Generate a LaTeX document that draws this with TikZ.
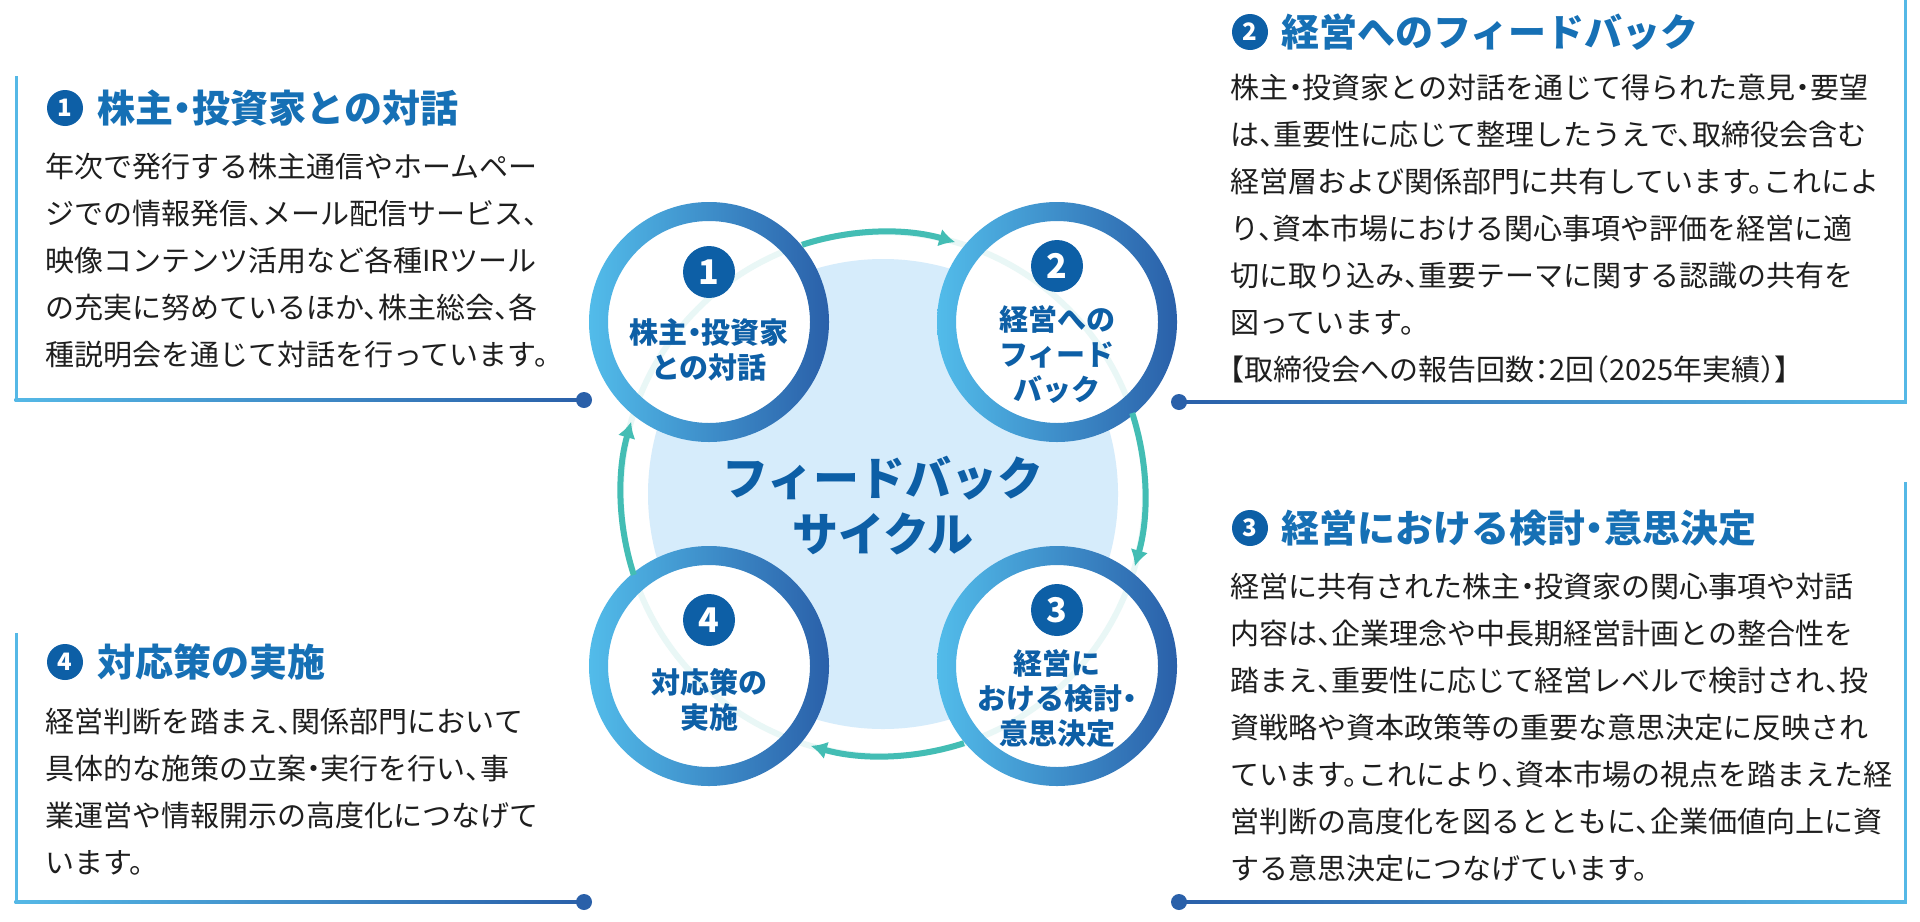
\documentclass[tikz,border=0pt]{standalone}
\usepackage{fontspec}
\setmainfont{Noto Sans CJK JP}[RawFeature=+halt]
\usetikzlibrary{arrows.meta}
\usetikzlibrary{positioning, calc}
\definecolor{ringlight}{HTML}{52BCEA}
\definecolor{ringdark}{HTML}{2A60A9}
\definecolor{numblue}{HTML}{0D5FA6}
\definecolor{titleblue}{HTML}{1670B5}
\definecolor{cycleteal}{HTML}{43BDB4}
\definecolor{bgblue}{HTML}{D6ECFB}
\definecolor{bodyblack}{HTML}{1E1E1E}
\definecolor{framelight}{HTML}{55B8E6}

\begin{document}
\begin{tikzpicture}[x=0.5pt, y=-0.5pt,
    num/.style={circle, fill=numblue, text=white, inner sep=0pt, font=\bfseries\fontsize{12}{12}\selectfont},
    bignum/.style={num, minimum size=26pt, font=\bfseries\fontsize{17}{17}\selectfont},
    smallnum/.style={num, minimum size=18pt},
    title/.style={anchor=west, inner sep=0pt, text=titleblue, font=\bfseries\fontsize{19}{19}\selectfont},
    body/.style={anchor=north west, inner sep=0pt, align=left, text=bodyblack, font=\fontsize{14.5}{23.5}\selectfont},
    stage/.style={circle, fill=white, minimum size=101pt, inner sep=0pt},
    stagetext/.style={align=center, inner sep=0pt, text=numblue, font=\bfseries\fontsize{14.5}{17.5}\selectfont},
    cycle arrow/.style={cycleteal, line width=3pt, -{Latex[length=8pt, width=9pt]}},
    dot/.style={circle, fill=ringdark, minimum size=8pt, inner sep=0pt}
]
    \useasboundingbox (0,0) rectangle (1920,921);
    \fill[white] (0,0) rectangle (1920,921);

    % frames of the text boxes
    \fill[framelight] (14.5,76) rectangle (17.5,401.5);
    \shade[left color=framelight, right color=ringdark] (14.5,398.5) rectangle (584,401.5);
    \fill[framelight] (14.5,633) rectangle (17.5,903.5);
    \shade[left color=framelight, right color=ringdark] (14.5,900.5) rectangle (584,903.5);
    \fill[framelight] (1903.5,0) rectangle (1906.5,403.5);
    \shade[left color=ringdark, right color=framelight] (1179,400.5) rectangle (1906.5,403.5);
    \fill[framelight] (1903.5,482) rectangle (1906.5,903.5);
    \shade[left color=ringdark, right color=framelight] (1179,900.5) rectangle (1906.5,903.5);
    \node[dot] (d1) at (584,400) {};
    \node[dot] (d4) at (584,902) {};
    \node[dot] (d2) at (1179,402) {};
    \node[dot] (d3) at (1179,902) {};

    % cycle
    \coordinate (c) at (883,494);
    \fill[bgblue] (c) circle[radius=117.5pt];
    \node[stage] (s1) at (709,322) {};
    \node[stage] (s2) at (1057,322) {};
    \node[stage] (s3) at (1057,666) {};
    \node[stage] (s4) at (709,666) {};
    \draw[cycleteal!12, line width=3pt] (c) circle[radius=131pt];
    \foreach \s/\a in {s1/-45, s2/-135, s3/135, s4/45} {
        \shade[even odd rule, shading angle=\a, left color=ringlight, right color=ringdark]
            (\s) circle[radius=60pt] (\s) circle[radius=50.5pt];
    }
    \foreach \a in {0, 90, 180, 270} {
        \draw[cycle arrow] (c) ++(-108+\a:262) arc[start angle=-108+\a, end angle=-74+\a, radius=262];
    }

    \node[bignum] (n1) at ($(s1)+(0,-50)$) {1};
    \node[bignum] (n2) at ($(s2)+(0,-56)$) {2};
    \node[bignum] (n3) at ($(s3)+(0,-56)$) {3};
    \node[bignum] (n4) at ($(s4)+(0,-46)$) {4};
    \node[stagetext] (l1) at (709,350) {株主・投資家\\との対話};
    \node[stagetext] (l2) at (1057,355) {経営への\\フィード\\バック};
    \node[stagetext] (l3) at (1057,698) {経営に\\おける検討・\\意思決定};
    \node[stagetext] (l4) at (709,700) {対応策の\\実施};
    \node[align=center, inner sep=0pt, text=numblue, font=\bfseries\fontsize{23}{28}\selectfont] (cyc) at (883,506) {フィードバック\\サイクル};

    % box 1
    \node[smallnum] (t1n) at (65,108) {1};
    \node[title] (t1) at (97,108) {株主・投資家との対話};
    \node[body] (b1) at (45,153) {年次で発行する株主通信やホームペー\\ジでの情報発信、メール配信サービス、\\映像コンテンツ活用など各種IRツール\\の充実に努めているほか、株主総会、各\\種説明会を通じて対話を行っています。};

    % box 2
    \node[smallnum] (t2n) at (1250,32) {2};
    \node[title] (t2) at (1281,32) {経営へのフィードバック};
    \node[body] (b2) at (1230,74) {株主・投資家との対話を通じて得られた意見・要望\\は、重要性に応じて整理したうえで、取締役会含む\\経営層および関係部門に共有しています。これによ\\り、資本市場における関心事項や評価を経営に適\\切に取り込み、重要テーマに関する認識の共有を\\図っています。\\【取締役会への報告回数：2回（2025年実績）】};

    % box 3
    \node[smallnum] (t3n) at (1250,528) {3};
    \node[title] (t3) at (1281,528) {経営における検討・意思決定};
    \node[body] (b3) at (1230,573) {経営に共有された株主・投資家の関心事項や対話\\内容は、企業理念や中長期経営計画との整合性を\\踏まえ、重要性に応じて経営レベルで検討され、投\\資戦略や資本政策等の重要な意思決定に反映され\\ています。これにより、資本市場の視点を踏まえた経\\営判断の高度化を図るとともに、企業価値向上に資\\する意思決定につなげています。};

    % box 4
    \node[smallnum] (t4n) at (65,662) {4};
    \node[title] (t4) at (97,662) {対応策の実施};
    \node[body] (b4) at (45,708) {経営判断を踏まえ、関係部門において\\具体的な施策の立案・実行を行い、事\\業運営や情報開示の高度化につなげて\\います。};
\end{tikzpicture}
\end{document}
